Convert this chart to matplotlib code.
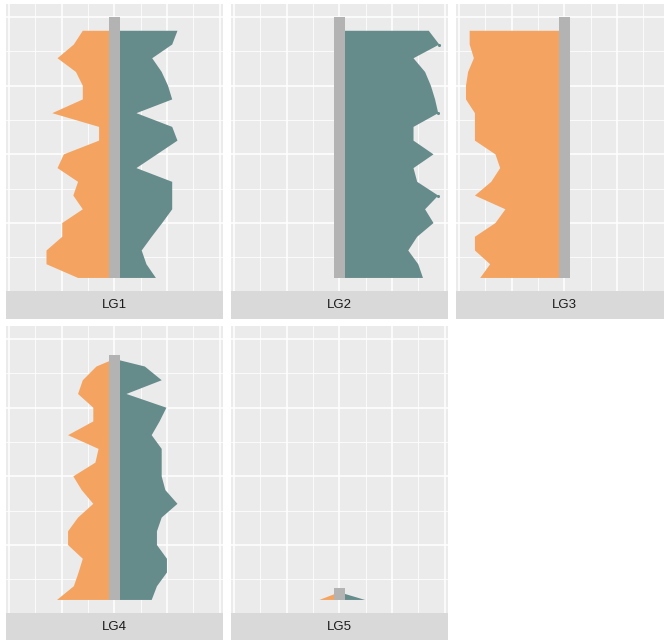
import numpy as np
import matplotlib
matplotlib.use("Agg")
import matplotlib.pyplot as plt
from matplotlib.patches import Polygon, Rectangle

plt.rcParams['font.family'] = ['Liberation Sans', 'DejaVu Sans']

# window positions along each linkage group
pos_full = list(range(1, 20))
pos_lg4 = list(range(1, 19)) + [18.55]
pos_lg5 = [1, 1.56]

lg_names = ["LG1", "LG2", "LG3", "LG4", "LG5"]
lg_length = [20, 20, 20, 18.84, 1.87]

lg1_left = [-69, -129, -129, -99, -99, -60, -78, -69, -108, -96, -29, -29, -118, -60, -60, -73, -108, -77, -60]
lg1_right = [79, 61, 52, 71, 91, 110, 110, 110, 42, 81, 120, 110, 42, 110, 102, 90, 72, 110, 120]

lg2_left = [0] * 19
lg2_right = [159, 150, 131, 148, 179, 163, 188, 148, 141, 179, 141, 141, 188, 182, 174, 163, 141, 190, 170]

lg3_left = [-160, -141, -170, -170, -131, -112, -170, -139, -122, -131, -170, -170, -170, -187, -187, -183, -172, -180, -180]
lg3_right = [0] * 19

lg4_left = [-109, -77, -68, -60, -88, -88, -69, -40, -62, -78, -36, -30, -88, -40, -40, -69, -60, -34, 0]
lg4_right = [71, 81, 100, 100, 81, 81, 90, 120, 97, 90, 90, 90, 71, 86, 99, 23, 90, 58, 0]

lg5_left = [-38, 0]
lg5_right = [49, 0]

# peak windows marked with a dot on LG2
lg2_peaks = [7, 13, 18]

positions = [pos_full, pos_full, pos_full, pos_lg4, pos_lg5]
lefts = [lg1_left, lg2_left, lg3_left, lg4_left, lg5_left]
rights = [lg1_right, lg2_right, lg3_right, lg4_right, lg5_right]

col_left = "#F4A460"
col_right = "#668B8B"
col_chrom = "#B3B3B3"
bar_half = 10

W, H = 664, 640
fig = plt.figure(figsize=(W / 100, H / 100), dpi=100)

# panel boxes in pixels: left, top
panel_w, panel_h, strip_h = 216.7, 287, 28
panel_xy = [(6, 4), (231, 4), (456, 4), (6, 326), (231, 326)]

for i, name in enumerate(lg_names):
    px, py = panel_xy[i]
    ax = fig.add_axes([px / W, (H - py - panel_h) / H, panel_w / W, panel_h / H])
    ax.set_facecolor("#EBEBEB")
    ax.set_xlim(-206, 206)
    ax.set_ylim(0.05, 20.95)
    for v in [-150, -50, 50, 150]:
        ax.axvline(v, color="white", lw=0.55, zorder=0)
    for v in [-200, -100, 0, 100, 200]:
        ax.axvline(v, color="white", lw=1.1, zorder=0)
    for v in [2.5, 7.5, 12.5, 17.5]:
        ax.axhline(v, color="white", lw=0.55, zorder=0)
    for v in [5, 10, 15, 20]:
        ax.axhline(v, color="white", lw=1.1, zorder=0)

    p = positions[i]
    left_pts = [(0, p[0])] + list(zip(lefts[i], p)) + [(0, p[-1])]
    right_pts = [(0, p[0])] + list(zip(rights[i], p)) + [(0, p[-1])]
    ax.add_patch(Polygon(left_pts, closed=True, facecolor=col_left, edgecolor="none", zorder=2))
    ax.add_patch(Polygon(right_pts, closed=True, facecolor=col_right, edgecolor="none", zorder=2))
    ax.add_patch(Rectangle((-bar_half, 1), 2 * bar_half, lg_length[i] - 1,
                           facecolor=col_chrom, edgecolor="none", zorder=3))
    if name == "LG2":
        ax.scatter([rights[i][k - 1] for k in lg2_peaks], lg2_peaks, s=5,
                   color=col_right, zorder=4, linewidths=0)

    ax.set_xticks([])
    ax.set_yticks([])
    for s in ax.spines.values():
        s.set_visible(False)

    sax = fig.add_axes([px / W, (H - py - panel_h - strip_h) / H, panel_w / W, strip_h / H])
    sax.set_facecolor("#D9D9D9")
    sax.set_xticks([])
    sax.set_yticks([])
    for s in sax.spines.values():
        s.set_visible(False)
    sax.text(0.5, 0.5, name, ha="center", va="center", fontsize=9.5,
             color="#1A1A1A", transform=sax.transAxes)

fig.savefig("out.png", dpi=100)
